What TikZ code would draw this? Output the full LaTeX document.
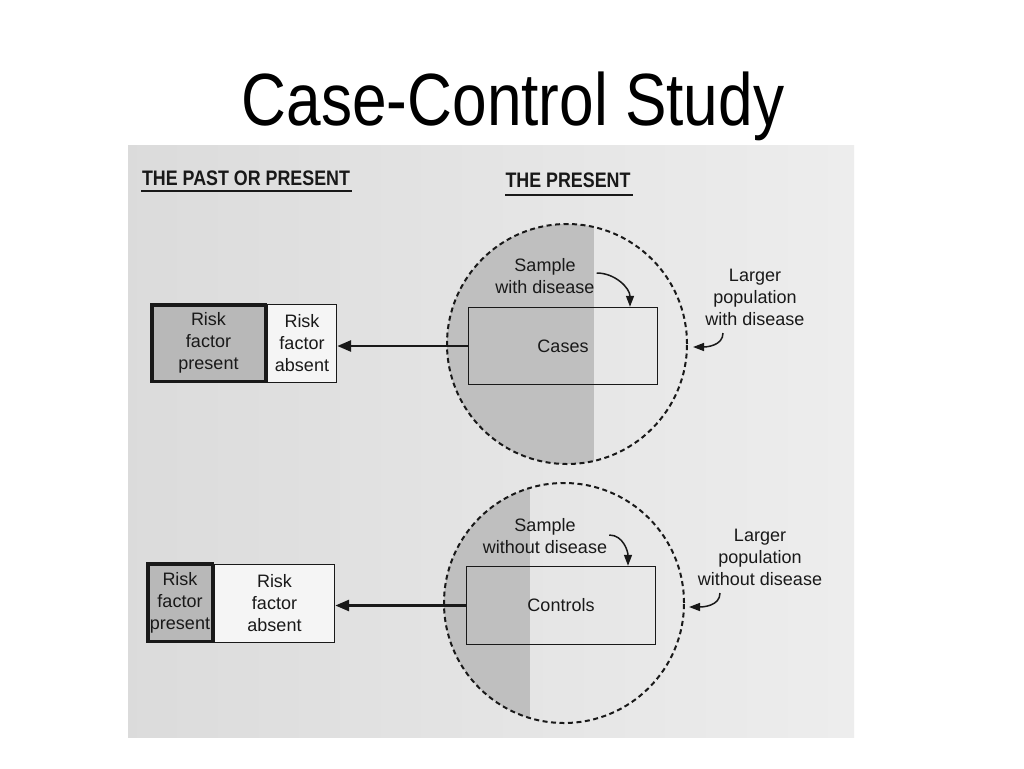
\documentclass[tikz,border=0pt]{standalone}
\usepackage{fontspec}
\setmainfont{Liberation Sans}
\newfontfamily\titlefont{Liberation Sans}[FakeStretch=0.84]
\newfontfamily\headfont{Liberation Sans}[FakeStretch=0.85]
\usetikzlibrary{arrows.meta}
\definecolor{ink}{gray}{0.1}
\definecolor{scanL}{gray}{0.86}
\definecolor{scanR}{gray}{0.93}
\definecolor{diseasegray}{gray}{0.75}
\definecolor{riskgray}{gray}{0.72}
\definecolor{paper}{gray}{0.96}
\begin{document}
\begin{tikzpicture}[x=1pt,y=-1pt,
  lbl/.style={font=\fontsize{18}{22}\selectfont,align=center,inner sep=0pt,text=ink},
  hd/.style={font=\headfont\bfseries\fontsize{21}{24}\selectfont,anchor=base,inner sep=0pt,text=ink},
  bx/.style={draw=ink,line width=1.4pt},
  ring/.style={circle,draw=ink,line width=2pt,dash pattern=on 5pt off 3.5pt,minimum size=240pt,inner sep=0pt},
  main/.style={draw=ink,line width=2.8pt,-{Triangle[length=14pt,width=11pt]}},
  curl/.style={draw=ink,line width=1.5pt,-{Triangle[length=11pt,width=8pt]}}]
            \useasboundingbox (0,0) rectangle (1024,768);
            \fill[white] (0,0) rectangle (1024,768);
            \shade[left color=scanL,right color=scanR] (128,145) rectangle (854,737);
            
            \node[font=\titlefont\fontsize{74}{80}\selectfont,anchor=base,inner sep=0pt] (T) at (513,125) {Case-Control Study};
            \node[hd] (H1) at (246,185) {THE PAST OR PRESENT};
            \node[hd] (H2) at (568,187) {THE PRESENT};
            \coordinate (U1) at (141,191);
            \coordinate (V1) at (352,191);
            \coordinate (U2) at (505,195);
            \coordinate (V2) at (633,195);
            
            \coordinate (O1) at (567,344);
            \coordinate (O2) at (564,603);
            \begin{scope}
              \clip (O1) circle (120pt);
              \fill[diseasegray] (440,220) rectangle (594,470);
            \end{scope}
            \begin{scope}
              \clip (O2) circle (120pt);
              \fill[diseasegray] (440,480) rectangle (530,730);
            \end{scope}
            
            \node[ring] (P1) at (O1) {};
            \node[ring] (P2) at (O2) {};
            
            \node[bx,lbl,minimum width=189pt,minimum height=77pt] (C1) at (563,346) {Cases};
            \node[bx,lbl,minimum width=189pt,minimum height=78pt] (C2) at (561,605.5) {Controls};
            
            \node[bx,lbl,fill=paper,minimum width=69pt,minimum height=78pt] (RA1) at (302,343.5) {Risk\\factor\\absent};
            \node[bx,lbl,fill=riskgray,line width=3.5pt,minimum width=113.5pt,minimum height=76.5pt] (RP1) at (208.5,343) {Risk\\factor\\present};
            \node[bx,lbl,fill=paper,minimum width=120pt,minimum height=78pt] (RA2) at (274.5,603.5) {Risk\\factor\\absent};
            \node[bx,lbl,fill=riskgray,line width=3.5pt,minimum width=64.5pt,minimum height=77.5pt] (RP2) at (180,602.5) {Risk\\factor\\present};
            
            \node[lbl] (S1) at (545,276) {Sample\\with disease};
            \node[lbl] (S2) at (545,536) {Sample\\without disease};
            \node[lbl] (L1) at (755,297) {Larger\\population\\with disease};
            \node[lbl] (L2) at (760,557) {Larger\\population\\without disease};
            \coordinate (A1) at (723,333);
            \coordinate (A2) at (720,593);
            
            \draw[ink,line width=1.4pt] (U1) -- (V1);
            \draw[ink,line width=1.4pt] (U2) -- (V2);
            \draw[main] (C1.west) -- (C1.west -| RA1.east);
            \draw[main] (C2.west) -- (C2.west -| RA2.east);
            \draw[curl] ([xshift=2pt,yshift=3pt]S1.east) to[out=0,in=90] ([xshift=67pt]C1.north);
            \draw[curl] ([xshift=2pt,yshift=1pt]S2.east) to[out=0,in=90] ([xshift=67pt]C2.north);
            \draw[curl] (A1) to[out=-90,in=0] ([shift={(5pt,-3pt)}]P1.east);
            \draw[curl] (A2) to[out=-90,in=0] ([shift={(4pt,-4pt)}]P2.east);
          \end{tikzpicture}
\end{document}
